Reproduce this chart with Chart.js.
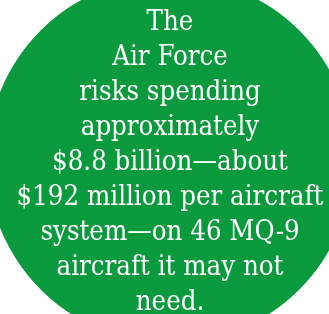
<!DOCTYPE html>
<html>
<head>
<meta charset="utf-8">
<script src="https://cdn.jsdelivr.net/npm/chart.js@4"></script>
<style>
  html, body { margin: 0; padding: 0; background: #fff; overflow: hidden; width: 329px; height: 314px; }
  #wrap { position: absolute; left: -13px; top: -23px; width: 366px; height: 366px; }
</style>
</head>
<body>
<div id="wrap"><canvas id="bubble" width="366" height="366"></canvas></div>
<script>
// one big green disc, text written on it
const labels = ['Risk'];
const values = [1];
const textLines = [
    'The',
    'Air Force',
    'risks spending',
    'approximately',
    '$8.8 billion\u2014about',
    '$192 million per aircraft',
    'system\u2014on 46 MQ-9',
    'aircraft it may not',
    'need.'
];

const GREEN = '#0a9a3e';
const FONT = '"DejaVu Serif Condensed", "DejaVu Serif", serif';

// draws the lines centred on the disc
const centerText = {
    id: 'centerText',
    afterDraw(chart) {
        const ctx = chart.ctx;
        const arc = chart.getDatasetMeta(0).data[0];
        const cx = arc.x, cy = arc.y;
        const lineGap = 35;
        const maxWidth = 307;

        // fit the longest line to the target width
        ctx.save();
        ctx.font = '30px ' + FONT;
        let widest = 0;
        textLines.forEach(t => { widest = Math.max(widest, ctx.measureText(t).width); });
        const size = 30 * maxWidth / widest;
        ctx.font = size.toFixed(2) + 'px ' + FONT;
        ctx.fillStyle = '#ffffff';
        ctx.textAlign = 'center';
        ctx.textBaseline = 'alphabetic';
        const mid = (textLines.length - 1) / 2;
        textLines.forEach((t, i) => {
            ctx.fillText(t, cx, cy + 10 + (i - mid) * lineGap);
        });
        ctx.restore();
    }
};

new Chart(document.getElementById('bubble'), {
    type: 'pie',
    data: {
        labels: labels,
        datasets: [{
            data: values,
            backgroundColor: [GREEN],
            borderWidth: 0,
            hoverOffset: 0
        }]
    },
    options: {
        responsive: false,
        animation: false,
        events: [],
        layout: { padding: 0 },
        plugins: {
            legend: { display: false },
            tooltip: { enabled: false }
        }
    },
    plugins: [centerText]
});
</script>
</body>
</html>
